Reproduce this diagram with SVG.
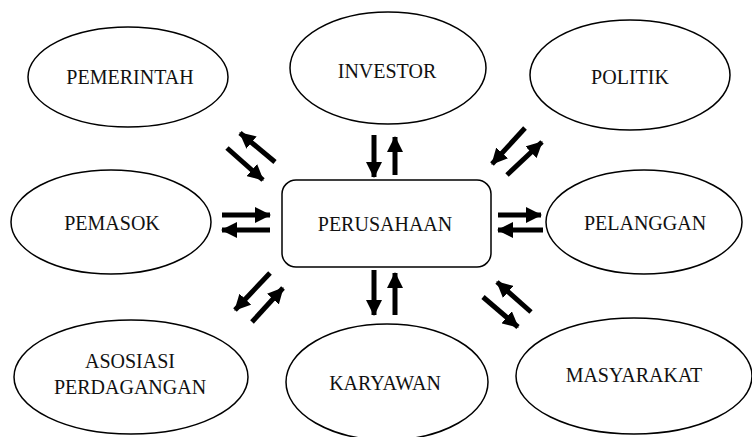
<svg xmlns="http://www.w3.org/2000/svg" width="752" height="437" viewBox="0 0 752 437">
<defs>
<marker id="ah" markerUnits="userSpaceOnUse" markerWidth="16" markerHeight="16" viewBox="0 0 16 16" refX="15" refY="8" orient="auto">
<path d="M0,0 L16,8 L0,16 z" fill="#000"/>
</marker>
<style>
.n{fill:#fff;stroke:#000;stroke-width:1.5}
text{font-family:"Liberation Serif","Times New Roman",Times,serif;font-size:20px;fill:#111;text-anchor:middle}
.a{stroke:#000;stroke-width:5;fill:none;marker-end:url(#ah)}
</style>
</defs>
<rect width="752" height="437" fill="#fff"/>
<g id="pemerintah"><ellipse class="n" cx="128" cy="77" rx="100" ry="50"/><text x="130" y="84">PEMERINTAH</text></g>
<g id="investor"><ellipse class="n" cx="388" cy="68" rx="98" ry="56"/><text x="387" y="78">INVESTOR</text></g>
<g id="politik"><ellipse class="n" cx="630" cy="75" rx="100" ry="55"/><text x="630" y="84">POLITIK</text></g>
<g id="pemasok"><ellipse class="n" cx="111" cy="222" rx="100" ry="52"/><text x="112" y="230">PEMASOK</text></g>
<g id="perusahaan"><rect class="n" x="282" y="180" width="209" height="87" rx="14"/><text x="385" y="231">PERUSAHAAN</text></g>
<g id="pelanggan"><ellipse class="n" cx="644" cy="222" rx="98" ry="52"/><text x="645" y="230">PELANGGAN</text></g>
<g id="asosiasi"><ellipse class="n" cx="131" cy="377" rx="117" ry="57"/><text x="130" y="368">ASOSIASI</text><text x="130" y="394">PERDAGANGAN</text></g>
<g id="karyawan"><ellipse class="n" cx="387" cy="382" rx="101" ry="58"/><text x="385" y="390">KARYAWAN</text></g>
<g id="masyarakat"><ellipse class="n" cx="634" cy="376" rx="118" ry="58"/><text x="634" y="382">MASYARAKAT</text></g>
<g id="connectors">
<line class="a" x1="275" y1="162" x2="240" y2="133"/>
<line class="a" x1="227" y1="148" x2="263" y2="180"/>
<line class="a" x1="525" y1="128" x2="492" y2="164"/>
<line class="a" x1="507" y1="175" x2="542" y2="142"/>
<line class="a" x1="222" y1="215" x2="270" y2="215"/>
<line class="a" x1="270" y1="230" x2="222" y2="230"/>
<line class="a" x1="498" y1="215" x2="541" y2="215"/>
<line class="a" x1="543" y1="230" x2="498" y2="230"/>
<line class="a" x1="270" y1="273" x2="235" y2="310"/>
<line class="a" x1="252" y1="322" x2="283" y2="288"/>
<line class="a" x1="531" y1="312" x2="497" y2="282"/>
<line class="a" x1="483" y1="297" x2="518" y2="327"/>
<line class="a" x1="374" y1="135" x2="374" y2="177"/>
<line class="a" x1="395" y1="175" x2="395" y2="137"/>
<line class="a" x1="374" y1="270" x2="374" y2="315"/>
<line class="a" x1="395" y1="315" x2="395" y2="273"/>
</g>
</svg>
